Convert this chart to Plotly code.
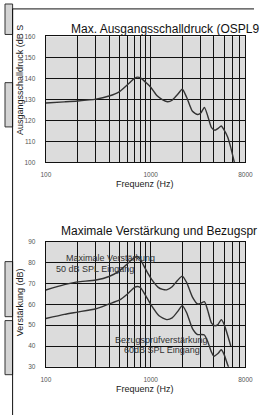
import plotly.graph_objects as go

# ---------------- data ----------------
ospl_freq = [100, 150, 200, 300, 400, 500, 600, 700, 750, 800, 900, 1000, 1150, 1300, 1450,
             1600, 1800, 2000, 2200, 2500, 2800, 3000, 3250, 3500, 3800, 4100, 4400, 4700,
             5000, 5400, 5800, 6200, 6600]
ospl_db = [128.3, 128.8, 129.2, 130.1, 131.6, 133.6, 137.0, 140.0, 140.6, 140.2, 138.0, 135.8,
           131.7, 129.8, 128.9, 129.6, 132.3, 134.8, 131.0, 124.3, 122.8, 123.5, 126.2, 122.0,
           116.5, 115.3, 116.2, 117.3, 115.5, 112.2, 107.0, 101.0, 96.0]

max_gain_freq = [100, 150, 200, 300, 400, 500, 600, 650, 700, 750, 800, 860, 950, 1020, 1170,
                 1300, 1420, 1600, 1800, 2000, 2200, 2500, 2800, 3000, 3250, 3500, 3800, 4100,
                 4400, 4700, 5000, 5400, 5800]
max_gain_db = [66.9, 69.5, 70.8, 71.7, 73.4, 76.0, 79.5, 81.2, 82.5, 83.0, 81.5, 78.5, 74.5,
               72.0, 68.3, 67.2, 67.0, 68.5, 71.5, 73.6, 70.5, 63.5, 60.2, 60.5, 61.3, 57.0,
               51.0, 49.7, 50.5, 52.7, 50.5, 45.3, 40.0]

ref_gain_freq = [100, 150, 200, 300, 400, 500, 600, 700, 750, 800, 900, 1000, 1200, 1420, 1600,
                 1800, 2000, 2200, 2500, 2800, 3000, 3250, 3500, 3800, 4000, 4400, 4700, 5000,
                 5400, 5800]
ref_gain_db = [53.2, 55.2, 56.3, 57.9, 60.2, 62.0, 65.0, 68.2, 68.6, 68.0, 64.0, 60.0, 54.5,
               52.7, 53.5, 56.5, 59.4, 56.0, 48.4, 45.5, 45.5, 45.3, 42.0, 37.0, 35.1, 36.5,
               38.2, 36.0, 31.1, 27.0]

grid_freqs = [100, 200, 300, 400, 500, 600, 700, 800, 900, 1000,
              2000, 3000, 4000, 5000, 6000, 7000, 8000]
x_tick_labels = {100: "100", 1000: "1000", 8000: "8000"}
ospl_ticks = [100, 110, 120, 130, 140, 150, 160]
gain_ticks = [30, 40, 50, 60, 70, 80, 90]

W, H = 262, 418


def px(x):
    return x / W


def py(y):
    return 1 - y / H


fig = go.Figure()
line_style = dict(color="#333333", width=1.4, shape="spline", smoothing=0.6)
fig.add_trace(go.Scatter(x=ospl_freq, y=ospl_db, mode="lines", line=line_style,
                         xaxis="x", yaxis="y", showlegend=False))
fig.add_trace(go.Scatter(x=max_gain_freq, y=max_gain_db, mode="lines", line=line_style,
                         xaxis="x2", yaxis="y2", showlegend=False))
fig.add_trace(go.Scatter(x=ref_gain_freq, y=ref_gain_db, mode="lines", line=line_style,
                         xaxis="x2", yaxis="y2", showlegend=False))

xcommon = dict(type="log", range=[2, 3.90309], tickmode="array", tickvals=grid_freqs,
               ticktext=[x_tick_labels.get(f, "") for f in grid_freqs],
               showgrid=True, gridcolor="#111111", gridwidth=1.4,
               showline=True, mirror=True, linecolor="#111111", linewidth=1.4,
               ticks="", ticklabelstandoff=6,
               tickfont=dict(family="Liberation Sans, Arial", size=6.5, color="#555555"),
               zeroline=False, fixedrange=True)
ycommon = dict(showgrid=True, gridcolor="#111111", gridwidth=1.4,
               showline=True, mirror=True, linecolor="#111111", linewidth=1.4,
               ticks="", ticklabelstandoff=8,
               tickfont=dict(family="Liberation Sans, Arial", size=6.5, color="#555555"),
               zeroline=False, fixedrange=True)

fig.update_layout(
    width=W, height=H,
    margin=dict(l=0, r=0, t=0, b=0),
    paper_bgcolor="white",
    plot_bgcolor="#dcdcdc",
    xaxis=dict(domain=[px(43), px(253)], anchor="y", **xcommon),
    yaxis=dict(domain=[py(161), py(33)], anchor="x", range=[100, 160],
               tickvals=ospl_ticks, **ycommon),
    xaxis2=dict(domain=[px(43), px(253)], anchor="y2", **xcommon),
    yaxis2=dict(domain=[py(369), py(242)], anchor="x2", range=[30, 90],
                tickvals=gain_ticks, **ycommon),
)

font_main = "Liberation Sans, Arial"
ann = []


def add_text(text, x, y, size, color="#111111", xanchor="center", angle=0):
    ann.append(dict(text=text, x=px(x), y=py(y), xref="paper", yref="paper",
                    xanchor=xanchor, yanchor="middle", showarrow=False, textangle=angle,
                    font=dict(family=font_main, size=size, color=color)))


add_text("Max. Ausgangsschalldruck (OSPL9", 67, 25, 12, xanchor="left")
add_text("Maximale Verstärkung und Bezugspr", 57, 231, 12, xanchor="left")
add_text("Ausgangsschalldruck (dB S", 16, 77, 9, color="#222222", angle=-90)
add_text("Verstärkung (dB)", 16, 303, 9, color="#222222", angle=-90)
add_text("Frequenz (Hz)", 147, 183, 9, color="#222222")
add_text("Frequenz (Hz)", 147, 392, 9, color="#222222")
add_text("Maximale Verstärkung", 111, 258, 9, color="#333333")
add_text("50 dB SPL Eingang", 95, 270, 9, color="#333333")
add_text("Bezugsprüfverstärkung", 165, 342, 9, color="#333333")
add_text("60dB SPL Eingang", 165, 352, 9, color="#333333")

# frame of the surrounding page
shapes = []
strip_cells = [(0, 31), (80, 125), (262, 318), (322, 377)]
for y0, y1 in strip_cells:
    shapes.append(dict(type="rect", xref="paper", yref="paper", x0=px(0), x1=px(8),
                       y0=py(y1), y1=py(y0), fillcolor="#d4d4d4",
                       line=dict(color="#333333", width=1)))
shapes.append(dict(type="line", xref="paper", yref="paper", x0=px(8), x1=px(8),
                   y0=py(418), y1=py(5), line=dict(color="#111111", width=1)))
shapes.append(dict(type="line", xref="paper", yref="paper", x0=px(8), x1=px(262),
                   y0=py(5), y1=py(5), line=dict(color="#111111", width=1)))

fig.update_layout(annotations=ann, shapes=shapes)
fig.write_html(
    "out.html",
    config={"displayModeBar": False},
    post_script="document.body.style.margin='0';document.body.style.overflow='hidden';",
)
